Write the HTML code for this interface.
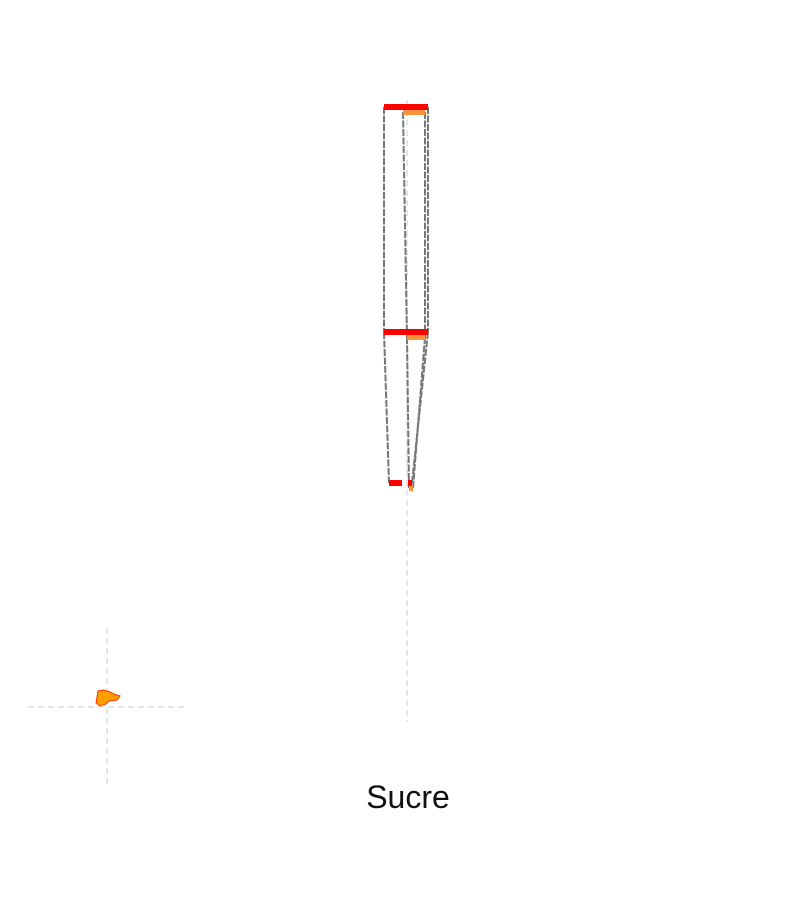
<!DOCTYPE html>
<html><head><meta charset="utf-8">
<style>
html,body{margin:0;padding:0;background:#fff;}
svg{display:block;}
</style></head>
<body>
<svg id="chart" width="800" height="900" viewBox="0 0 800 900" xmlns="http://www.w3.org/2000/svg">
  <line x1="407" y1="100" x2="407" y2="722" stroke="#ddd" stroke-width="1.5" stroke-dasharray="6,4"/>
  <g>
    <line x1="28" y1="707" x2="188" y2="707" stroke="#ddd" stroke-width="1.5" stroke-dasharray="6,4"/>
    <line x1="107" y1="628" x2="107" y2="788" stroke="#ddd" stroke-width="1.5" stroke-dasharray="6,4"/>
    <path d="M98,691 L104,690 L110,692 L114,694 L120,696 L117,700 L109,701 L106,704 L100,706 L96,703 Z" fill="#ffa000" stroke="#ff3000" stroke-width="1"/>
  </g>
  <g id="marks"></g>
  <text x="408" y="808" text-anchor="middle" font-family="'Liberation Sans', 'DejaVu Sans', sans-serif" font-size="32" fill="#111">Sucre</text>
</svg>
<script>
const stages = ['s1', 's2', 's3'];
const redLeft = [-23, -23, -18];
const redRight = [21, 21, 5];
const redExtraLeft = [0, 0, 1];
const redExtraRight = [0, 0, 5];
const orangeLeft = [-4, 0, 2];
const orangeRight = [18, 18, 6];

const SVGNS = 'http://www.w3.org/2000/svg';
function x(v) { return 407 + v; }
function y(i) { return [107, 332, 483][i]; }
const g = document.getElementById('marks');

function outline(lefts, rights, dy, name) {
  for (let i = 0; i < stages.length - 1; i++) {
    [[lefts, 'left'], [rights, 'right']].forEach(([arr, side]) => {
      const l = document.createElementNS(SVGNS, 'line');
      l.setAttribute('x1', x(arr[i]));
      l.setAttribute('y1', y(i) + dy);
      l.setAttribute('x2', x(arr[i + 1]));
      l.setAttribute('y2', y(i + 1) + dy);
      l.setAttribute('stroke', '#777');
      l.setAttribute('stroke-width', '2');
      l.setAttribute('stroke-dasharray', '7,1.5');
      
      
      g.appendChild(l);
    });
  }
}
function bars(lefts, rights, dy, h, color, name) {
  stages.forEach((s, i) => {
    if (rights[i] - lefts[i] <= 0) return;
    const r = document.createElementNS(SVGNS, 'rect');
    r.setAttribute('x', x(lefts[i]));
    r.setAttribute('y', y(i) + dy - h / 2);
    r.setAttribute('width', x(rights[i]) - x(lefts[i]));
    r.setAttribute('height', h);
    r.setAttribute('fill', color);
    
    
    g.appendChild(r);
  });
}
outline(redLeft, redRight, 0, 'red');
outline(orangeLeft, orangeRight, 5, 'orange');
bars(orangeLeft, orangeRight, 5, 6, '#f7943a', 'orange');
bars(redLeft, [21, 21, -5], 0, 6, '#ff0000', 'red');
bars(redExtraLeft, redExtraRight, 0, 6, '#ff0000', 'red-extra');
</script>
</body></html>
